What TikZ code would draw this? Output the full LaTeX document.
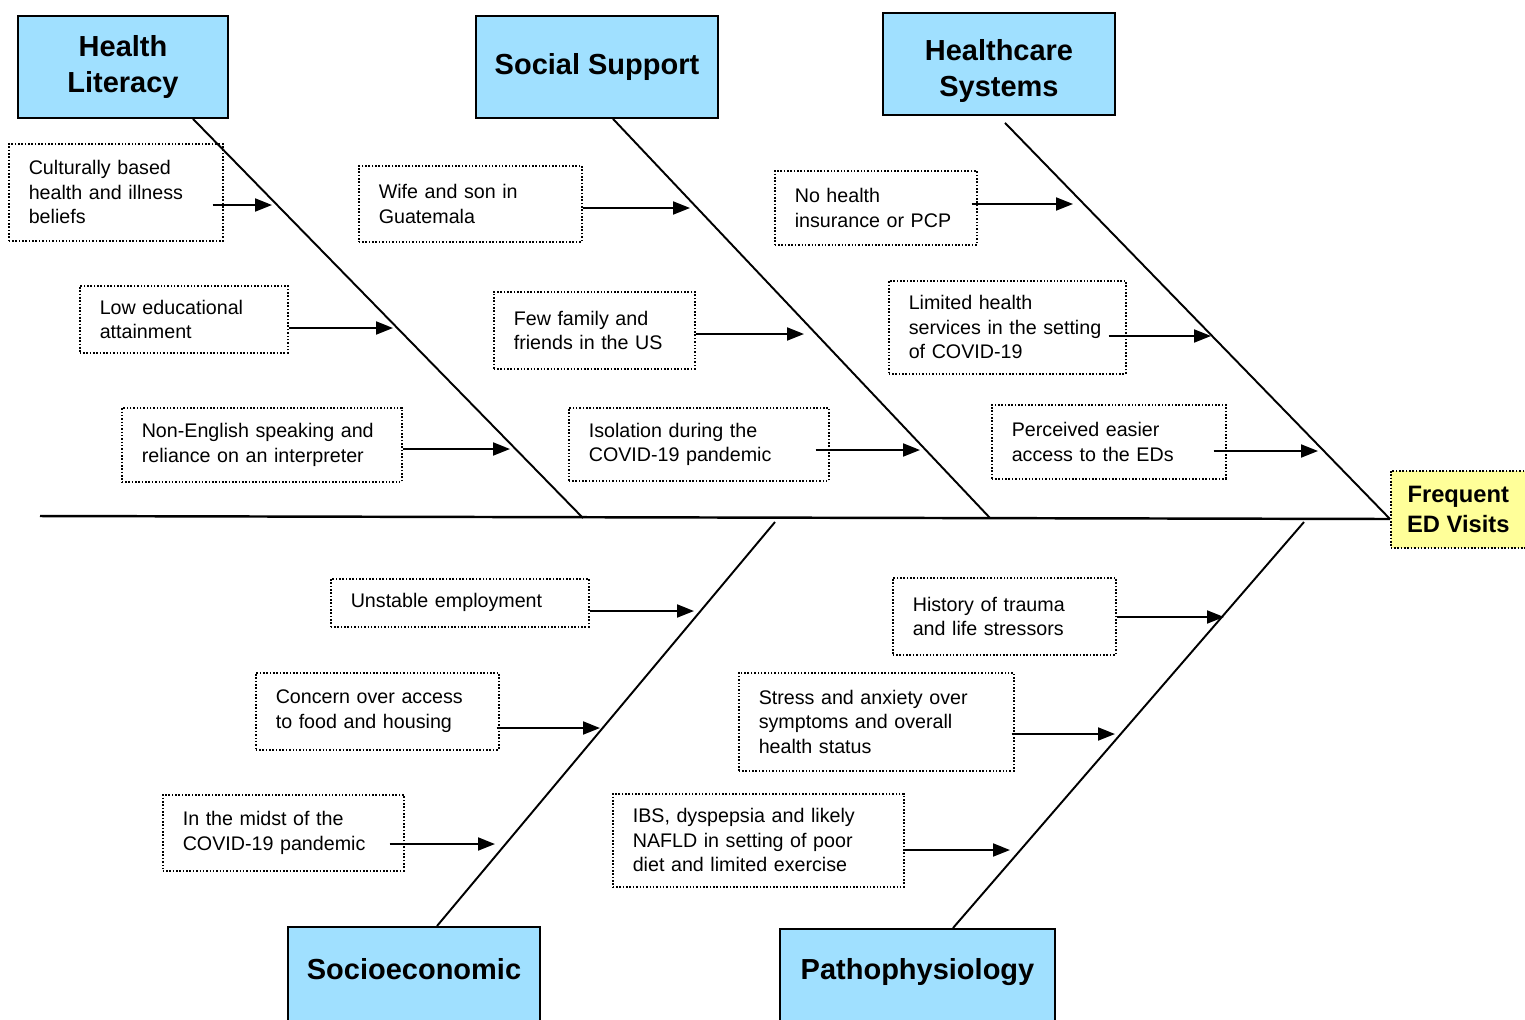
\documentclass[tikz,border=0pt]{standalone}
\usepackage{fontspec}
\setmainfont{Liberation Sans}
\usetikzlibrary{arrows.meta, calc}
\definecolor{catblue}{RGB}{160,224,255}
\definecolor{effyellow}{RGB}{255,255,153}
\hyphenpenalty=10000

\begin{document}
\begin{tikzpicture}[x=0.02cm, y=-0.02cm,
    category/.style={draw, line width=1pt, fill=catblue, align=center, minimum height=2.04cm,
        font=\fontsize{16.5}{20.5}\selectfont\bfseries},
    cause/.style={draw, line width=0.9pt, dash pattern=on 0.9pt off 1pt, align=left,
        anchor=north west, inner xsep=0.4cm, font=\fontsize{11.2}{13.9}\selectfont},
    effect/.style={draw, line width=0.9pt, dash pattern=on 0.9pt off 1pt, fill=effyellow,
        align=center, anchor=north west, minimum width=2.7cm, minimum height=1.54cm,
        font=\fontsize{13.5}{17}\selectfont\bfseries},
    bone/.style={line width=1.1pt},
    arr/.style={line width=1.1pt, -{Triangle[length=0.34cm, width=0.26cm]}}]
    \useasboundingbox (0,0) rectangle (1525,1019);

    % categories and effect
    \node[category, minimum width=4.2cm]  (HL) at (123,67) {Health\\Literacy};
    \node[category, minimum width=4.84cm] (SS) at (597,67) {Social Support};
    \node[category, minimum width=4.64cm, text height=1.43cm] (HS) at (999,64) {Healthcare\\Systems};
    \node[category, minimum width=5.04cm, anchor=north, text height=0.42cm, text depth=1.6cm,
        inner ysep=0.63cm] (SE) at (414,926) {Socioeconomic};
    \node[category, minimum width=5.5cm, anchor=north, text height=0.42cm, text depth=1.6cm,
        inner ysep=0.59cm] (PP) at (917.5,928) {Pathophysiology};
    \node[effect] (ED) at (1390,470) {Frequent\\ED Visits};

    % spine and bones
    \coordinate (tail) at (40,516);
    \coordinate (head) at (1390,519);
    \coordinate (hlE) at (583,518);
    \coordinate (ssE) at (990,518);
    \coordinate (seE) at (775,522);
    \coordinate (ppE) at (1304,522);
    \draw[line width=1.4pt] (tail) -- (head);
    \draw[bone] ([xshift=1.4cm]HL.south) -- (hlE);
    \draw[bone] ([xshift=0.32cm]SS.south) -- (ssE);
    \draw[bone] ($(HS.south)+(6,7)$) -- (head);
    \draw[bone] ([xshift=0.46cm]SE.north) -- (seE);
    \draw[bone] ([xshift=0.71cm]PP.north) -- (ppE);

    % health literacy
    \node[cause, text width=3.48cm, minimum height=1.94cm] (HL1) at (8,143)
        {Culturally based\\health and illness\\beliefs};
    \node[cause, text width=3.36cm, minimum height=1.34cm] (HL2) at (79,285)
        {Low educational\\attainment};
    \node[cause, text width=4.8cm, minimum height=1.48cm] (HL3) at (121,407)
        {Non-English speaking and\\reliance on an interpreter};
    \coordinate (hl1) at (272,205);
    \coordinate (hl2) at (393,328);
    \coordinate (hl3) at (510,449);
    \draw[arr] (HL1.east |- hl1) ++(-11,0) -- (hl1);
    \draw[arr] (HL2.east |- hl2) -- (hl2);
    \draw[arr] (HL3.east |- hl3) -- (hl3);

    % social support
    \node[cause, text width=3.66cm, minimum height=1.52cm] (SS1) at (358,165)
        {Wife and son in\\Guatemala};
    \node[cause, text width=3.22cm, minimum height=1.54cm] (SS2) at (493,291)
        {Few family and\\friends in the US};
    \node[cause, text width=4.4cm, minimum height=1.46cm] (SS3) at (568,407)
        {Isolation during the\\COVID-19 pandemic};
    \coordinate (ss1) at (690,208);
    \coordinate (ss2) at (804,334);
    \coordinate (ss3) at (920,450);
    \draw[arr] (SS1.east |- ss1) -- (ss1);
    \draw[arr] (SS2.east |- ss2) -- (ss2);
    \draw[arr] (SS3.east |- ss3) ++(-14,0) -- (ss3);

    % healthcare systems
    \node[cause, text width=3.24cm, minimum height=1.48cm] (HS1) at (774,170)
        {No health\\insurance or PCP};
    \node[cause, text width=3.94cm, minimum height=1.86cm] (HS2) at (888,280)
        {Limited health\\services in the setting\\of COVID-19};
    \node[cause, text width=3.88cm, minimum height=1.48cm] (HS3) at (991,404)
        {Perceived easier\\access to the EDs};
    \coordinate (hs1) at (1073,204);
    \coordinate (hs2) at (1211,336);
    \coordinate (hs3) at (1318,451);
    \draw[arr] (HS1.east |- hs1) ++(-6,0) -- (hs1);
    \draw[arr] (HS2.east |- hs2) ++(-18,0) -- (hs2);
    \draw[arr] (HS3.east |- hs3) ++(-13,0) -- (hs3);

    % socioeconomic
    \node[cause, text width=4.36cm, minimum height=0.96cm] (SE1) at (330,578)
        {Unstable employment};
    \node[cause, text width=4.06cm, minimum height=1.54cm] (SE2) at (255,672)
        {Concern over access\\to food and housing};
    \node[cause, text width=4.02cm, minimum height=1.52cm] (SE3) at (162,794)
        {In the midst of the\\COVID-19 pandemic};
    \coordinate (se1) at (694,611);
    \coordinate (se2) at (600,728);
    \coordinate (se3) at (495,844);
    \draw[arr] (SE1.east |- se1) -- (se1);
    \draw[arr] (SE2.east |- se2) ++(-3,0) -- (se2);
    \draw[arr] (SE3.east |- se3) ++(-15,0) -- (se3);

    % pathophysiology
    \node[cause, text width=3.66cm, minimum height=1.54cm] (PP1) at (892,577)
        {History of trauma\\and life stressors};
    \node[cause, text width=4.7cm, minimum height=1.96cm] (PP2) at (738,672)
        {Stress and anxiety over\\symptoms and overall\\health status};
    \node[cause, text width=5.02cm, minimum height=1.86cm] (PP3) at (612,793)
        {IBS, dyspepsia and likely\\NAFLD in setting of poor\\diet and limited exercise};
    \coordinate (pp1) at (1224,617);
    \coordinate (pp2) at (1115,734);
    \coordinate (pp3) at (1010,850);
    \draw[arr] (PP1.east |- pp1) -- (pp1);
    \draw[arr] (PP2.east |- pp2) ++(-3,0) -- (pp2);
    \draw[arr] (PP3.east |- pp3) -- (pp3);
\end{tikzpicture}
\end{document}
